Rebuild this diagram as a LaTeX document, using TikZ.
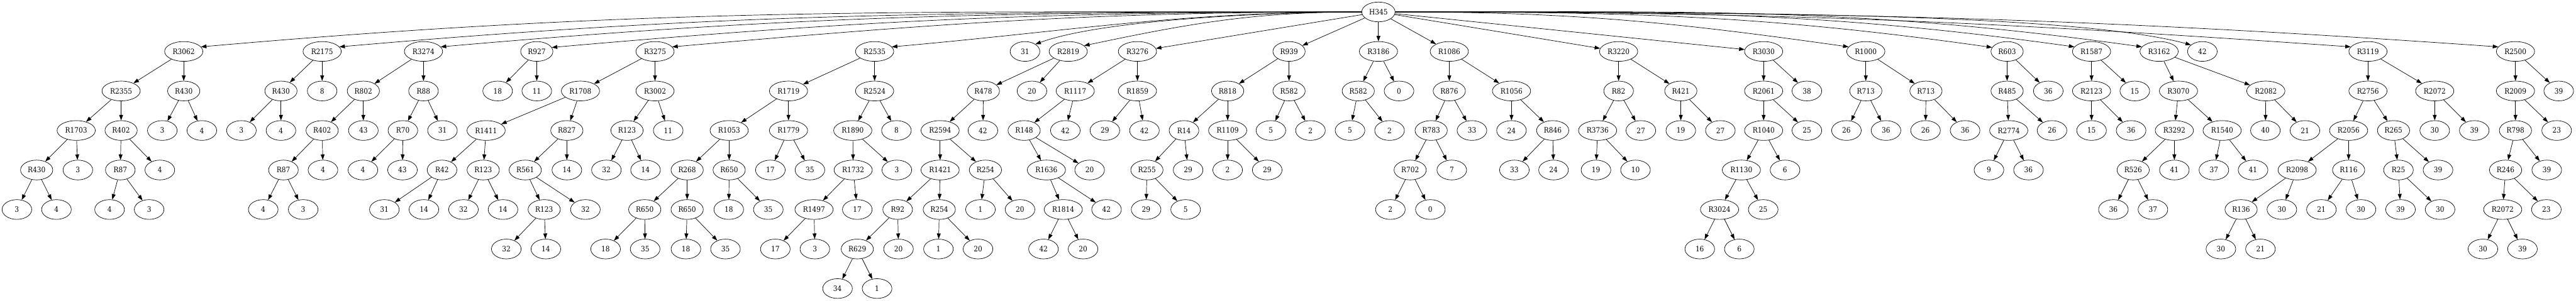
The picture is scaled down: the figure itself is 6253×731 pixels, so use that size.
\documentclass[tikz,border=0pt]{standalone}
\usepackage{fontspec}
\newfontfamily\gvfont{DejaVu Serif Condensed}
\usetikzlibrary{shapes.geometric,arrows.meta}

\begin{document}
\begin{tikzpicture}[->,>={Triangle[length=10pt,width=7pt]},line width=0.8pt,x=0.75pt,y=-0.75pt,
  main node/.style={ellipse,draw,minimum width=54pt,minimum height=36pt,inner xsep=4.6pt,font=\gvfont\fontsize{13.5}{16}\selectfont}]
  \useasboundingbox (0,0) rectangle (6253,731);
  % root
  \node[main node] (h345) at (3346, 29) {H345};
  % rank 1
  \node[main node] (r3062) at (446, 125) {R3062};
  \node[main node] (r2175) at (782, 125) {R2175};
  \node[main node] (r3274) at (1028, 125) {R3274};
  \node[main node] (r927) at (1303, 125) {R927};
  \node[main node] (r3275) at (1590, 125) {R3275};
  \node[main node] (r2535) at (2123, 125) {R2535};
  \node[main node] (h345x) at (2488, 125) {31};
  \node[main node] (r2819) at (2593, 125) {R2819};
  \node[main node] (r3276) at (2761, 125) {R3276};
  \node[main node] (r939) at (3129, 125) {R939};
  \node[main node] (r3186) at (3346, 125) {R3186};
  \node[main node] (r1086) at (3518, 125) {R1086};
  \node[main node] (r3220) at (3929, 125) {R3220};
  \node[main node] (r3030) at (4281, 125) {R3030};
  \node[main node] (r1000) at (4529, 125) {R1000};
  \node[main node] (r603) at (4872, 125) {R603};
  \node[main node] (r1587) at (5077, 125) {R1587};
  \node[main node] (r3162) at (5241, 125) {R3162};
  \node[main node] (h345y) at (5346, 125) {42};
  \node[main node] (r3119) at (5748, 125) {R3119};
  \node[main node] (r2500) at (6106, 125) {R2500};
  % rank 2
  \node[main node] (r2355) at (294, 221) {R2355};
  \node[main node] (r430a) at (446, 221) {R430};
  \node[main node] (r430c) at (682, 221) {R430};
  \node[main node] (r2175y) at (782, 221) {8};
  \node[main node] (r802) at (882, 221) {R802};
  \node[main node] (r88) at (1028, 221) {R88};
  \node[main node] (r927x) at (1208, 221) {18};
  \node[main node] (r927y) at (1303, 221) {11};
  \node[main node] (r1708) at (1409, 221) {R1708};
  \node[main node] (r3002) at (1590, 221) {R3002};
  \node[main node] (r1719) at (1914, 221) {R1719};
  \node[main node] (r2524) at (2123, 221) {R2524};
  \node[main node] (r478) at (2387, 221) {R478};
  \node[main node] (r2819y) at (2505, 221) {20};
  \node[main node] (r1117) at (2610, 221) {R1117};
  \node[main node] (r1859) at (2761, 221) {R1859};
  \node[main node] (r818) at (2980, 221) {R818};
  \node[main node] (r582a) at (3129, 221) {R582};
  \node[main node] (r582b) at (3297, 221) {R582};
  \node[main node] (r3186y) at (3396, 221) {0};
  \node[main node] (r876) at (3518, 221) {R876};
  \node[main node] (r1056) at (3669, 221) {R1056};
  \node[main node] (r82) at (3929, 221) {R82};
  \node[main node] (r421) at (4080, 221) {R421};
  \node[main node] (r2061) at (4281, 221) {R2061};
  \node[main node] (r3030y) at (4386, 221) {38};
  \node[main node] (r713a) at (4529, 221) {R713};
  \node[main node] (r713b) at (4675, 221) {R713};
  \node[main node] (r485) at (4872, 221) {R485};
  \node[main node] (r603y) at (4972, 221) {36};
  \node[main node] (r2123) at (5077, 221) {R2123};
  \node[main node] (r1587y) at (5182, 221) {15};
  \node[main node] (r3070) at (5288, 221) {R3070};
  \node[main node] (r2082) at (5500, 221) {R2082};
  \node[main node] (r2756) at (5748, 221) {R2756};
  \node[main node] (r2072a) at (5910, 221) {R2072};
  \node[main node] (r2009) at (6106, 221) {R2009};
  \node[main node] (r2500y) at (6211, 221) {39};
  % rank 3
  \node[main node] (r1703) at (185, 317) {R1703};
  \node[main node] (r402a) at (294, 317) {R402};
  \node[main node] (r430ax) at (394, 317) {3};
  \node[main node] (r430ay) at (490, 317) {4};
  \node[main node] (r430cx) at (586, 317) {3};
  \node[main node] (r430cy) at (682, 317) {4};
  \node[main node] (r402b) at (782, 317) {R402};
  \node[main node] (r802y) at (882, 317) {43};
  \node[main node] (r70) at (978, 317) {R70};
  \node[main node] (r88y) at (1074, 317) {31};
  \node[main node] (r1411) at (1180, 317) {R1411};
  \node[main node] (r827) at (1376, 317) {R827};
  \node[main node] (r123a) at (1522, 317) {R123};
  \node[main node] (r3002y) at (1622, 317) {11};
  \node[main node] (r1053) at (1770, 317) {R1053};
  \node[main node] (r1779) at (1914, 317) {R1779};
  \node[main node] (r1890) at (2070, 317) {R1890};
  \node[main node] (r2524y) at (2176, 317) {8};
  \node[main node] (r2594) at (2282, 317) {R2594};
  \node[main node] (r478y) at (2386, 317) {42};
  \node[main node] (r148) at (2486, 317) {R148};
  \node[main node] (r1117y) at (2586, 317) {42};
  \node[main node] (r1859x) at (2682, 317) {29};
  \node[main node] (r1859y) at (2778, 317) {42};
  \node[main node] (r14) at (2874, 317) {R14};
  \node[main node] (r1109) at (2980, 317) {R1109};
  \node[main node] (r582ax) at (3085, 317) {5};
  \node[main node] (r582ay) at (3181, 317) {2};
  \node[main node] (r582bx) at (3277, 317) {5};
  \node[main node] (r582by) at (3373, 317) {2};
  \node[main node] (r783) at (3474, 317) {R783};
  \node[main node] (r876y) at (3573, 317) {33};
  \node[main node] (r1056x) at (3669, 317) {24};
  \node[main node] (r846) at (3769, 317) {R846};
  \node[main node] (r3736) at (3878, 317) {R3736};
  \node[main node] (r82y) at (3983, 317) {27};
  \node[main node] (r421x) at (4080, 317) {19};
  \node[main node] (r421y) at (4176, 317) {27};
  \node[main node] (r1040) at (4281, 317) {R1040};
  \node[main node] (r2061y) at (4386, 317) {25};
  \node[main node] (r713ax) at (4482, 317) {26};
  \node[main node] (r713ay) at (4578, 317) {36};
  \node[main node] (r713bx) at (4674, 317) {26};
  \node[main node] (r713by) at (4770, 317) {36};
  \node[main node] (r2774) at (4876, 317) {R2774};
  \node[main node] (r485y) at (4981, 317) {26};
  \node[main node] (r2123x) at (5077, 317) {15};
  \node[main node] (r2123y) at (5173, 317) {36};
  \node[main node] (r3292) at (5278, 317) {R3292};
  \node[main node] (r1540) at (5394, 317) {R1540};
  \node[main node] (r2082x) at (5499, 317) {40};
  \node[main node] (r2082y) at (5595, 317) {21};
  \node[main node] (r2056) at (5701, 317) {R2056};
  \node[main node] (r265) at (5810, 317) {R265};
  \node[main node] (r2072ax) at (5910, 317) {30};
  \node[main node] (r2072ay) at (6006, 317) {39};
  \node[main node] (r798) at (6106, 317) {R798};
  \node[main node] (r2009y) at (6206, 317) {23};
  % rank 4
  \node[main node] (r430b) at (89, 413) {R430};
  \node[main node] (r1703y) at (189, 413) {3};
  \node[main node] (r87a) at (292, 413) {R87};
  \node[main node] (r402ay) at (388, 413) {4};
  \node[main node] (r87b) at (688, 413) {R87};
  \node[main node] (r402by) at (784, 413) {4};
  \node[main node] (r70x) at (881, 413) {4};
  \node[main node] (r70y) at (977, 413) {43};
  \node[main node] (r42) at (1073, 413) {R42};
  \node[main node] (r123b) at (1173, 413) {R123};
  \node[main node] (r561) at (1275, 413) {R561};
  \node[main node] (r827y) at (1376, 413) {14};
  \node[main node] (r123ax) at (1472, 413) {32};
  \node[main node] (r123ay) at (1567, 413) {14};
  \node[main node] (r268) at (1668, 413) {R268};
  \node[main node] (r650a) at (1770, 413) {R650};
  \node[main node] (r1779x) at (1870, 413) {17};
  \node[main node] (r1779y) at (1966, 413) {35};
  \node[main node] (r1732) at (2071, 413) {R1732};
  \node[main node] (r1890y) at (2177, 413) {3};
  \node[main node] (r1421) at (2282, 413) {R1421};
  \node[main node] (r254a) at (2392, 413) {R254};
  \node[main node] (r1636) at (2540, 413) {R1636};
  \node[main node] (r148y) at (2645, 413) {20};
  \node[main node] (r255) at (2784, 413) {R255};
  \node[main node] (r14y) at (2884, 413) {29};
  \node[main node] (r1109x) at (2980, 413) {2};
  \node[main node] (r1109y) at (3076, 413) {29};
  \node[main node] (r702) at (3423, 413) {R702};
  \node[main node] (r783y) at (3524, 413) {7};
  \node[main node] (r846x) at (3676, 413) {33};
  \node[main node] (r846y) at (3771, 413) {24};
  \node[main node] (r3736x) at (3874, 413) {19};
  \node[main node] (r3736y) at (3970, 413) {10};
  \node[main node] (r1130) at (4227, 413) {R1130};
  \node[main node] (r1040y) at (4333, 413) {6};
  \node[main node] (r2774x) at (4828, 413) {9};
  \node[main node] (r2774y) at (4924, 413) {36};
  \node[main node] (r526) at (5178, 413) {R526};
  \node[main node] (r3292y) at (5278, 413) {41};
  \node[main node] (r1540x) at (5374, 413) {37};
  \node[main node] (r1540y) at (5469, 413) {41};
  \node[main node] (r2098) at (5576, 413) {R2098};
  \node[main node] (r116) at (5701, 413) {R116};
  \node[main node] (r25) at (5822, 413) {R25};
  \node[main node] (r265y) at (5918, 413) {39};
  \node[main node] (r246) at (6082, 413) {R246};
  \node[main node] (r798y) at (6182, 413) {39};
  % rank 5
  \node[main node] (r430bx) at (41, 509) {3};
  \node[main node] (r430by) at (137, 509) {4};
  \node[main node] (r87ax) at (266, 509) {4};
  \node[main node] (r87ay) at (362, 509) {3};
  \node[main node] (r87bx) at (639, 509) {4};
  \node[main node] (r87by) at (736, 509) {3};
  \node[main node] (r42x) at (933, 509) {31};
  \node[main node] (r42y) at (1029, 509) {14};
  \node[main node] (r123bx) at (1125, 509) {32};
  \node[main node] (r123by) at (1221, 509) {14};
  \node[main node] (r123c) at (1321, 509) {R123};
  \node[main node] (r561y) at (1421, 509) {32};
  \node[main node] (r650b) at (1565, 509) {R650};
  \node[main node] (r650c) at (1668, 509) {R650};
  \node[main node] (r650ax) at (1769, 509) {18};
  \node[main node] (r650ay) at (1865, 509) {35};
  \node[main node] (r1497) at (1976, 509) {R1497};
  \node[main node] (r1732y) at (2081, 509) {17};
  \node[main node] (r92) at (2179, 509) {R92};
  \node[main node] (r254b) at (2280, 509) {R254};
  \node[main node] (r254ax) at (2380, 509) {1};
  \node[main node] (r254ay) at (2476, 509) {20};
  \node[main node] (r1814) at (2581, 509) {R1814};
  \node[main node] (r1636y) at (2686, 509) {42};
  \node[main node] (r255x) at (2782, 509) {29};
  \node[main node] (r255y) at (2878, 509) {5};
  \node[main node] (r702x) at (3375, 509) {2};
  \node[main node] (r702y) at (3472, 509) {0};
  \node[main node] (r3024) at (4174, 509) {R3024};
  \node[main node] (r1130y) at (4280, 509) {25};
  \node[main node] (r526x) at (5130, 509) {36};
  \node[main node] (r526y) at (5226, 509) {37};
  \node[main node] (r136) at (5440, 509) {R136};
  \node[main node] (r2098y) at (5539, 509) {30};
  \node[main node] (r116x) at (5635, 509) {21};
  \node[main node] (r116y) at (5731, 509) {30};
  \node[main node] (r25x) at (5827, 509) {39};
  \node[main node] (r25y) at (5923, 509) {30};
  \node[main node] (r2072b) at (6075, 509) {R2072};
  \node[main node] (r246y) at (6181, 509) {23};
  % rank 6
  \node[main node] (r123cx) at (1229, 605) {32};
  \node[main node] (r123cy) at (1325, 605) {14};
  \node[main node] (r650bx) at (1470, 605) {18};
  \node[main node] (r650by) at (1566, 605) {35};
  \node[main node] (r650cx) at (1665, 605) {18};
  \node[main node] (r650cy) at (1761, 605) {35};
  \node[main node] (r1497x) at (1882, 605) {17};
  \node[main node] (r1497y) at (1978, 605) {3};
  \node[main node] (r629) at (2081, 605) {R629};
  \node[main node] (r92y) at (2181, 605) {20};
  \node[main node] (r254bx) at (2278, 605) {1};
  \node[main node] (r254by) at (2374, 605) {20};
  \node[main node] (r1814x) at (2533, 605) {42};
  \node[main node] (r1814y) at (2629, 605) {20};
  \node[main node] (r3024x) at (4126, 605) {16};
  \node[main node] (r3024y) at (4222, 605) {6};
  \node[main node] (r136x) at (5391, 605) {30};
  \node[main node] (r136y) at (5487, 605) {21};
  \node[main node] (r2072bx) at (6027, 605) {30};
  \node[main node] (r2072by) at (6123, 605) {39};
  % rank 7
  \node[main node] (r629x) at (2033, 701) {34};
  \node[main node] (r629y) at (2129, 701) {1};
  % long edges from the root
  \draw (h345.west) .. controls +(-1097,0) and +(1093,-96) .. (r3062.15);
  \draw (h345.west) .. controls +(-966,0) and +(962,-84) .. (r2175.15);
  \draw (h345.west) .. controls +(-870,0) and +(867,-76) .. (r3274.15);
  \draw (h345.west) .. controls +(-766,0) and +(763,-67) .. (r927.15);
  \draw (h345.west) .. controls +(-651,0) and +(649,-57) .. (r3275.15);
  \draw (h345.west) .. controls +(-444,0) and +(442,-39) .. (r2535.15);
  \draw (h345.west) .. controls +(-185,0) and +(174,-63) .. (h345x.35);
  \draw (h345.west) .. controls +(-262,0) and +(256,-54) .. (r2819.20);
  \draw (h345.east) .. controls +(429,0) and +(-425,-60) .. (r1000.165);
  \draw (h345.east) .. controls +(565,0) and +(-560,-79) .. (r603.165);
  \draw (h345.east) .. controls +(642,0) and +(-636,-89) .. (r1587.165);
  \draw (h345.east) .. controls +(706,0) and +(-699,-98) .. (r3162.165);
  \draw (h345.east) .. controls +(764,0) and +(-296,-79) .. (h345y.150);
  \draw (h345.east) .. controls +(904,0) and +(-902,-63) .. (r3119.165);
  \draw (h345.east) .. controls +(1043,0) and +(-1040,-73) .. (r2500.165);
  \path
    (h345) edge (r3276)
    (h345) edge (r939)
    (h345) edge (r3186)
    (h345) edge (r1086)
    (h345) edge (r3220)
    (h345) edge (r3030)
    (r3062) edge (r2355)
    (r3062) edge (r430a)
    (r2355) edge (r1703)
    (r2355) edge (r402a)
    (r430a) edge (r430ax)
    (r430a) edge (r430ay)
    (r1703) edge (r430b)
    (r1703) edge (r1703y)
    (r402a) edge (r87a)
    (r402a) edge (r402ay)
    (r430b) edge (r430bx)
    (r430b) edge (r430by)
    (r87a) edge (r87ax)
    (r87a) edge (r87ay)
    (r2175) edge (r430c)
    (r2175) edge (r2175y)
    (r430c) edge (r430cx)
    (r430c) edge (r430cy)
    (r3274) edge (r802)
    (r3274) edge (r88)
    (r802) edge (r402b)
    (r802) edge (r802y)
    (r88) edge (r70)
    (r88) edge (r88y)
    (r402b) edge (r87b)
    (r402b) edge (r402by)
    (r70) edge (r70x)
    (r70) edge (r70y)
    (r87b) edge (r87bx)
    (r87b) edge (r87by)
    (r927) edge (r927x)
    (r927) edge (r927y)
    (r3275) edge (r1708)
    (r3275) edge (r3002)
    (r1708) edge (r1411)
    (r1708) edge (r827)
    (r3002) edge (r123a)
    (r3002) edge (r3002y)
    (r1411) edge (r42)
    (r1411) edge (r123b)
    (r827) edge (r561)
    (r827) edge (r827y)
    (r123a) edge (r123ax)
    (r123a) edge (r123ay)
    (r42) edge (r42x)
    (r42) edge (r42y)
    (r123b) edge (r123bx)
    (r123b) edge (r123by)
    (r561) edge (r123c)
    (r561) edge (r561y)
    (r123c) edge (r123cx)
    (r123c) edge (r123cy)
    (r2535) edge (r1719)
    (r2535) edge (r2524)
    (r1719) edge (r1053)
    (r1719) edge (r1779)
    (r2524) edge (r1890)
    (r2524) edge (r2524y)
    (r1053) edge (r268)
    (r1053) edge (r650a)
    (r1779) edge (r1779x)
    (r1779) edge (r1779y)
    (r1890) edge (r1732)
    (r1890) edge (r1890y)
    (r268) edge (r650b)
    (r268) edge (r650c)
    (r650a) edge (r650ax)
    (r650a) edge (r650ay)
    (r1732) edge (r1497)
    (r1732) edge (r1732y)
    (r650b) edge (r650bx)
    (r650b) edge (r650by)
    (r650c) edge (r650cx)
    (r650c) edge (r650cy)
    (r1497) edge (r1497x)
    (r1497) edge (r1497y)
    (r2819) edge (r478)
    (r2819) edge (r2819y)
    (r478) edge (r2594)
    (r478) edge (r478y)
    (r2594) edge (r1421)
    (r2594) edge (r254a)
    (r1421) edge (r92)
    (r1421) edge (r254b)
    (r254a) edge (r254ax)
    (r254a) edge (r254ay)
    (r92) edge (r629)
    (r92) edge (r92y)
    (r254b) edge (r254bx)
    (r254b) edge (r254by)
    (r629) edge (r629x)
    (r629) edge (r629y)
    (r3276) edge (r1117)
    (r3276) edge (r1859)
    (r1117) edge (r148)
    (r1117) edge (r1117y)
    (r1859) edge (r1859x)
    (r1859) edge (r1859y)
    (r148) edge (r1636)
    (r148) edge (r148y)
    (r1636) edge (r1814)
    (r1636) edge (r1636y)
    (r1814) edge (r1814x)
    (r1814) edge (r1814y)
    (r939) edge (r818)
    (r939) edge (r582a)
    (r818) edge (r14)
    (r818) edge (r1109)
    (r582a) edge (r582ax)
    (r582a) edge (r582ay)
    (r14) edge (r255)
    (r14) edge (r14y)
    (r1109) edge (r1109x)
    (r1109) edge (r1109y)
    (r255) edge (r255x)
    (r255) edge (r255y)
    (r3186) edge (r582b)
    (r3186) edge (r3186y)
    (r582b) edge (r582bx)
    (r582b) edge (r582by)
    (r1086) edge (r876)
    (r1086) edge (r1056)
    (r876) edge (r783)
    (r876) edge (r876y)
    (r1056) edge (r1056x)
    (r1056) edge (r846)
    (r783) edge (r702)
    (r783) edge (r783y)
    (r846) edge (r846x)
    (r846) edge (r846y)
    (r702) edge (r702x)
    (r702) edge (r702y)
    (r3220) edge (r82)
    (r3220) edge (r421)
    (r82) edge (r3736)
    (r82) edge (r82y)
    (r421) edge (r421x)
    (r421) edge (r421y)
    (r3736) edge (r3736x)
    (r3736) edge (r3736y)
    (r3030) edge (r2061)
    (r3030) edge (r3030y)
    (r2061) edge (r1040)
    (r2061) edge (r2061y)
    (r1040) edge (r1130)
    (r1040) edge (r1040y)
    (r1130) edge (r3024)
    (r1130) edge (r1130y)
    (r3024) edge (r3024x)
    (r3024) edge (r3024y)
    (r1000) edge (r713a)
    (r1000) edge (r713b)
    (r713a) edge (r713ax)
    (r713a) edge (r713ay)
    (r713b) edge (r713bx)
    (r713b) edge (r713by)
    (r603) edge (r485)
    (r603) edge (r603y)
    (r485) edge (r2774)
    (r485) edge (r485y)
    (r2774) edge (r2774x)
    (r2774) edge (r2774y)
    (r1587) edge (r2123)
    (r1587) edge (r1587y)
    (r2123) edge (r2123x)
    (r2123) edge (r2123y)
    (r3162) edge (r3070)
    (r3162) edge (r2082)
    (r3070) edge (r3292)
    (r3070) edge (r1540)
    (r2082) edge (r2082x)
    (r2082) edge (r2082y)
    (r3292) edge (r526)
    (r3292) edge (r3292y)
    (r1540) edge (r1540x)
    (r1540) edge (r1540y)
    (r526) edge (r526x)
    (r526) edge (r526y)
    (r3119) edge (r2756)
    (r3119) edge (r2072a)
    (r2756) edge (r2056)
    (r2756) edge (r265)
    (r2072a) edge (r2072ax)
    (r2072a) edge (r2072ay)
    (r2056) edge (r2098)
    (r2056) edge (r116)
    (r265) edge (r25)
    (r265) edge (r265y)
    (r2098) edge (r136)
    (r2098) edge (r2098y)
    (r116) edge (r116x)
    (r116) edge (r116y)
    (r25) edge (r25x)
    (r25) edge (r25y)
    (r136) edge (r136x)
    (r136) edge (r136y)
    (r2500) edge (r2009)
    (r2500) edge (r2500y)
    (r2009) edge (r798)
    (r2009) edge (r2009y)
    (r798) edge (r246)
    (r798) edge (r798y)
    (r246) edge (r2072b)
    (r246) edge (r246y)
    (r2072b) edge (r2072bx)
    (r2072b) edge (r2072by);
\end{tikzpicture}
\end{document}
